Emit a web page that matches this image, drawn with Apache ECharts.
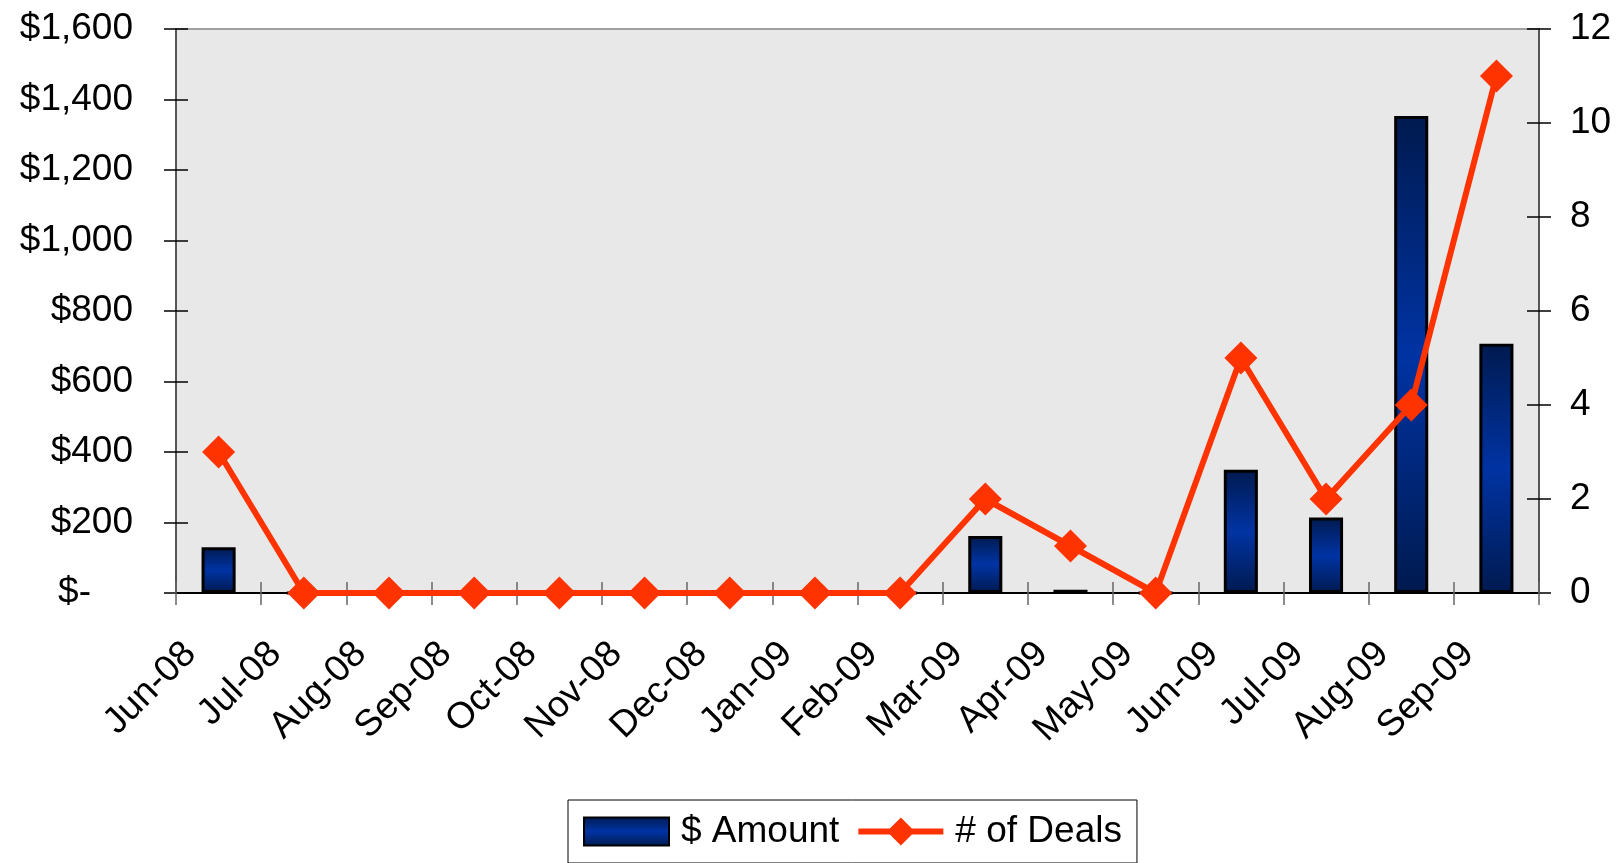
<!DOCTYPE html>
<html>
<head>
<meta charset="utf-8">
<script src="https://cdn.jsdelivr.net/npm/echarts@6/dist/echarts.min.js"></script>
<style>
html,body{margin:0;padding:0;background:#fff;}
#chart{width:1621px;height:863px;}
</style>
</head>
<body>
<div id="chart"></div>
<script>
const categories = ['Jun-08','Jul-08','Aug-08','Sep-08','Oct-08','Nov-08','Dec-08','Jan-09','Feb-09','Mar-09','Apr-09','May-09','Jun-09','Jul-09','Aug-09','Sep-09'];
const amounts = [130, 0, 0, 0, 0, 0, 0, 0, 0, 162, 9, 0, 350, 214, 1353, 707];
const deals = [3, 0, 0, 0, 0, 0, 0, 0, 0, 2, 1, 0, 5, 2, 4, 11];
const leftTicks = {min: 0, max: 1600, interval: 200};
const rightTicks = {min: 0, max: 12, interval: 2};

const FONT = 'Liberation Sans, Arial, sans-serif';
const FS = 37;
const chart = echarts.init(document.getElementById('chart'));
const barGrad = new echarts.graphic.LinearGradient(0, 0, 0, 1, [
  {offset: 0, color: '#001a4f'},
  {offset: 0.5, color: '#0033a3'},
  {offset: 1, color: '#001a4f'}
]);
const innerTick = (len, color) => ({show: true, inside: true, length: len, lineStyle: {color: color, width: 1.5}});
const lineDiamondIcon = 'path://M0 11L85 11L85 17L0 17Z M42.5 0L56.5 14L42.5 28L28.5 14Z';
chart.setOption({
  animation: false,
  backgroundColor: '#fff',
  textStyle: {fontFamily: FONT},
  grid: {left: 176, right: 82, top: 29, bottom: 270, show: true, backgroundColor: '#e8e8e8', borderColor: '#a0a0a0', borderWidth: 2},
  legend: {
    left: 568, top: 800,
    padding: [13, 15, 13, 15],
    borderColor: '#000', borderWidth: 1, backgroundColor: '#fff',
    itemWidth: 85, itemHeight: 28, itemGap: 19,
    textStyle: {fontSize: FS, color: '#000', fontFamily: FONT, padding: [0, 0, 0, 7]},
    data: [
      {name: '$ Amount', icon: 'rect'},
      {name: '# of Deals', icon: lineDiamondIcon, itemStyle: {color: '#ff3300', borderWidth: 0}}
    ]
  },
  xAxis: [{
    type: 'category', data: categories, position: 'bottom',
    axisLine: {lineStyle: {color: '#000', width: 2}},
    axisTick: {show: true, length: 12, lineStyle: {color: '#666', width: 1.5}},
    axisLabel: {rotate: 45, interval: 0, fontSize: FS, color: '#000', margin: 27, fontFamily: FONT, padding: [0, 40, 0, 0]},
    splitLine: {show: false}
  }, {
    type: 'category', data: categories, position: 'bottom',
    axisLine: {show: false},
    axisTick: innerTick(11, '#666'),
    axisLabel: {show: false},
    splitLine: {show: false}
  }],
  yAxis: [{
    type: 'value', position: 'left', min: leftTicks.min, max: leftTicks.max, interval: leftTicks.interval,
    axisLine: {show: true, lineStyle: {color: '#555', width: 2}},
    axisTick: {show: true, length: 12, lineStyle: {color: '#000', width: 1.5}},
    splitLine: {show: false},
    axisLabel: {
      fontSize: FS, color: '#000', margin: 43, fontFamily: FONT,
      formatter: v => v === 0 ? '{z|$-}' : '$' + v.toLocaleString('en-US'),
      rich: {z: {fontSize: FS, color: '#000', fontFamily: FONT, padding: [0, 42, 0, 0]}}
    }
  }, {
    type: 'value', position: 'right', min: rightTicks.min, max: rightTicks.max, interval: rightTicks.interval,
    axisLine: {show: true, lineStyle: {color: '#555', width: 2}},
    axisTick: {show: true, length: 12, lineStyle: {color: '#000', width: 1.5}},
    splitLine: {show: false},
    axisLabel: {fontSize: FS, color: '#000', margin: 31, fontFamily: FONT}
  }, {
    type: 'value', position: 'left', min: leftTicks.min, max: leftTicks.max, interval: leftTicks.interval,
    axisLine: {show: false}, axisTick: innerTick(12, '#000'), axisLabel: {show: false}, splitLine: {show: false}
  }, {
    type: 'value', position: 'right', min: rightTicks.min, max: rightTicks.max, interval: rightTicks.interval,
    axisLine: {show: false}, axisTick: innerTick(12, '#000'), axisLabel: {show: false}, splitLine: {show: false}
  }],
  series: [{
    name: '$ Amount', type: 'bar', data: amounts, yAxisIndex: 0, barWidth: '40%',
    itemStyle: {color: barGrad, borderColor: '#000', borderWidth: 3}
  }, {
    name: '# of Deals', type: 'line', data: deals, yAxisIndex: 1,
    symbol: 'diamond', symbolSize: 33,
    lineStyle: {color: '#ff3300', width: 6},
    itemStyle: {color: '#ff3300'}
  }]
});
</script>
</body>
</html>
